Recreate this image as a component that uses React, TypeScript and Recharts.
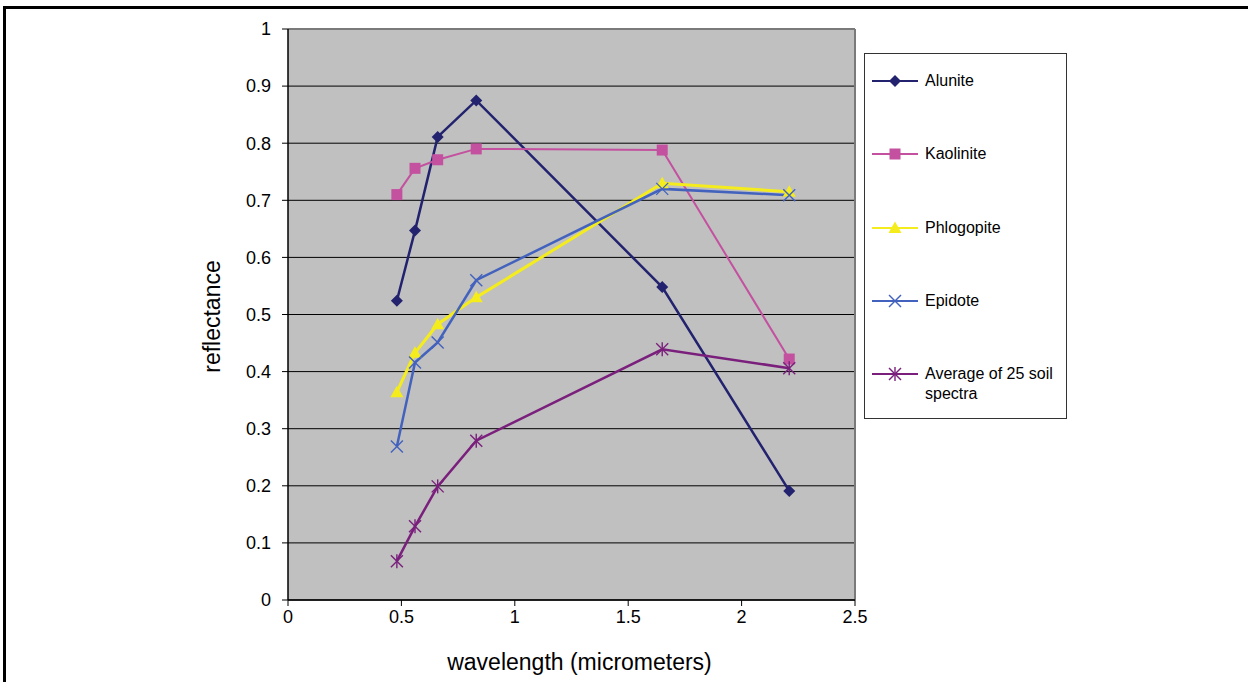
import React from "react";
import {
  CartesianGrid,
  Label,
  Line,
  LineChart,
  ReferenceLine,
  XAxis,
  YAxis,
} from "recharts";

const FONT = '"Liberation Sans", Arial, sans-serif';

// Landsat TM band centres (micrometers)
const wavelengths = [0.48, 0.56, 0.66, 0.83, 1.65, 2.21];

const alunite = [0.524, 0.647, 0.811, 0.875, 0.548, 0.191];
const kaolinite = [0.71, 0.756, 0.771, 0.79, 0.788, 0.422];
const phlogopite = [0.364, 0.433, 0.483, 0.53, 0.73, 0.715];
const epidote = [0.269, 0.416, 0.451, 0.56, 0.72, 0.709];
const soil = [0.068, 0.129, 0.199, 0.279, 0.439, 0.406];

const yTicks = [0, 0.1, 0.2, 0.3, 0.4, 0.5, 0.6, 0.7, 0.8, 0.9, 1];
const xTicks = [0, 0.5, 1, 1.5, 2, 2.5];

type Shape = "diamond" | "square" | "triangle" | "x" | "star";

const series: { key: string; name: string; values: number[]; color: string; shape: Shape; width: number }[] = [
  { key: "alunite", name: "Alunite", values: alunite, color: "#22226f", shape: "diamond", width: 2.5 },
  { key: "kaolinite", name: "Kaolinite", values: kaolinite, color: "#c3519f", shape: "square", width: 2 },
  { key: "phlogopite", name: "Phlogopite", values: phlogopite, color: "#f4ec1c", shape: "triangle", width: 3 },
  { key: "epidote", name: "Epidote", values: epidote, color: "#4262bd", shape: "x", width: 2.5 },
  { key: "soil", name: "Average of 25 soil spectra", values: soil, color: "#7a1f7c", shape: "star", width: 2.5 },
];

const rows = wavelengths.map((wl, i) => {
  const row: Record<string, number> = { wl };
  series.forEach((s) => (row[s.key] = s.values[i]));
  return row;
});

function Marker({ shape, x, y, color }: { shape: Shape; x: number; y: number; color: string }) {
  switch (shape) {
    case "diamond":
      return <path d={`M${x},${y - 6} L${x + 6},${y} L${x},${y + 6} L${x - 6},${y} Z`} fill={color} />;
    case "square":
      return <rect x={x - 5.5} y={y - 5.5} width={11} height={11} fill={color} />;
    case "triangle":
      return <path d={`M${x},${y - 6.5} L${x + 6.5},${y + 5} L${x - 6.5},${y + 5} Z`} fill={color} />;
    case "x":
      return (
        <g stroke={color} strokeWidth={1.4}>
          <line x1={x - 6} y1={y - 6} x2={x + 6} y2={y + 6} />
          <line x1={x - 6} y1={y + 6} x2={x + 6} y2={y - 6} />
        </g>
      );
    default:
      return (
        <g stroke={color} strokeWidth={1.4}>
          <line x1={x - 6} y1={y - 6} x2={x + 6} y2={y + 6} />
          <line x1={x - 6} y1={y + 6} x2={x + 6} y2={y - 6} />
          <line x1={x} y1={y - 7} x2={x} y2={y + 7} />
        </g>
      );
  }
}

function SpectraLegend() {
  return (
    <div
      style={{
        position: "absolute",
        left: 864,
        top: 53,
        width: 201,
        height: 364,
        border: "1px solid #333",
        background: "#fff",
        fontFamily: FONT,
        fontSize: 16,
        color: "#000",
      }}
    >
      {series.map((s, i) => (
        <div key={s.key} style={{ position: "absolute", left: 6, top: 17 + i * 73.3, display: "flex" }}>
          <svg width={54} height={20} style={{ flex: "none" }}>
            <line x1={1} y1={10} x2={47} y2={10} stroke={s.color} strokeWidth={2} />
            <Marker shape={s.shape} x={24} y={10} color={s.color} />
          </svg>
          <div style={{ lineHeight: "20px", width: 140 }}>{s.name}</div>
        </div>
      ))}
    </div>
  );
}

export default function App() {
  return (
    <div
      style={{
        position: "fixed",
        left: 0,
        top: 0,
        width: 1248,
        height: 682,
        overflow: "hidden",
        background: "#fff",
      }}
    >
      <div
        style={{
          position: "absolute",
          left: 3,
          top: 6,
          width: 1400,
          height: 800,
          borderTop: "3px solid #000",
          borderLeft: "3px solid #000",
        }}
      />
      <LineChart
        width={1248}
        height={682}
        data={rows}
        margin={{ top: 29, right: 393, bottom: 0, left: 0 }}
        style={{ position: "absolute", left: 0, top: 0 }}
      >
        <CartesianGrid vertical={false} stroke="#000" strokeWidth={1} fill="#c0c0c0" fillOpacity={1} />
        <XAxis
          dataKey="wl"
          type="number"
          domain={[0, 2.5]}
          ticks={xTicks}
          height={82}
          tickSize={6}
          tickMargin={4}
          axisLine={{ stroke: "#000", strokeWidth: 1.5 }}
          tickLine={{ stroke: "#000" }}
          tick={{ fill: "#000", fontSize: 18, fontFamily: FONT }}
        >
          <Label
            content={({ viewBox }: any) => (
              <text
                x={viewBox.x + viewBox.width / 2 + 8}
                y={viewBox.y + 62}
                textAnchor="middle"
                dominantBaseline="central"
                fontSize={23}
                fontFamily={FONT}
                fill="#000"
              >
                wavelength (micrometers)
              </text>
            )}
          />
        </XAxis>
        <YAxis
          type="number"
          domain={[0, 1]}
          ticks={yTicks}
          width={288}
          tickSize={6}
          tickMargin={11}
          axisLine={{ stroke: "#000", strokeWidth: 1.5 }}
          tickLine={{ stroke: "#000" }}
          tick={{ fill: "#000", fontSize: 18, fontFamily: FONT }}
        >
          <Label
            content={({ viewBox }: any) => {
              const x = viewBox.x + viewBox.width - 76;
              const y = viewBox.y + viewBox.height / 2 + 2;
              return (
                <text
                  x={x}
                  y={y}
                  transform={`rotate(-90, ${x}, ${y})`}
                  textAnchor="middle"
                  dominantBaseline="central"
                  fontSize={23}
                  fontFamily={FONT}
                  fill="#000"
                >
                  reflectance
                </text>
              );
            }}
          />
        </YAxis>
        <ReferenceLine y={1} stroke="#7a7a7a" strokeWidth={2} />
        <ReferenceLine x={2.5} stroke="#7a7a7a" strokeWidth={2} />
        {series.map((s) => (
          <Line
            key={s.key}
            dataKey={s.key}
            name={s.name}
            stroke={s.color}
            strokeWidth={s.width}
            isAnimationActive={false}
            activeDot={false}
            dot={(p: any) => (
              <Marker key={`${s.key}-${p.index}`} shape={s.shape} x={p.cx} y={p.cy} color={s.color} />
            )}
          />
        ))}
      </LineChart>
      <SpectraLegend />
    </div>
  );
}
